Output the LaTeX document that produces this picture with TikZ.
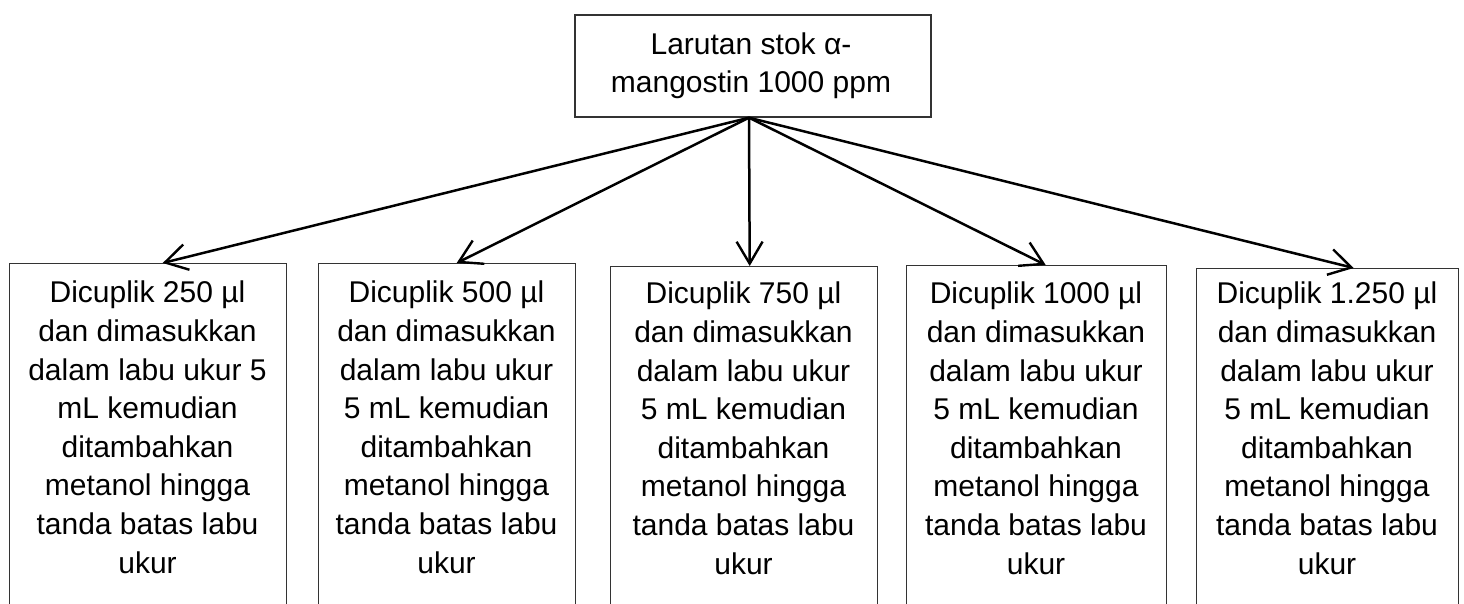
\documentclass[tikz,border=0pt]{standalone}
\usepackage{fontspec}
\setmainfont{Liberation Sans}
\usetikzlibrary{arrows.meta}
\begin{document}
\begin{tikzpicture}[x=1pt,y=-1pt,
  boxshape/.style={draw=black!80, line width=1.4pt, inner sep=0pt, anchor=north west, minimum height=380pt},
  label/.style={align=center, inner sep=0pt, anchor=base, font=\fontsize{30}{38.6}\selectfont},
  conn/.style={line width=2.5pt, -{Straight Barb[length=22pt,width=26pt,line width=2.4pt]}}]
\useasboundingbox (0,0) rectangle (1464,604);
\clip (0,0) rectangle (1464,604);
% top box
\node[draw=black!80, line width=1.4pt, inner sep=0pt, minimum width=356pt, minimum height=102pt] (top) at (753,66) {};
\node[label] (toptext) at (751,93) {Larutan stok α-\\mangostin 1000 ppm};
\coordinate (apex) at ([xshift=-4pt]top.south);
% bottom boxes
\node[boxshape, minimum width=277pt] (b1) at (9,263) {};
\node[boxshape, minimum width=257pt] (b2) at (318,263) {};
\node[boxshape, minimum width=267pt] (b3) at (610,266) {};
\node[boxshape, minimum width=260pt] (b4) at (906,265) {};
\node[boxshape, minimum width=262pt] (b5) at (1196,268) {};
\node[label] (l1) at (147.5,573) {Dicuplik 250 µl\\dan dimasukkan\\dalam labu ukur 5\\mL kemudian\\ditambahkan\\metanol hingga\\tanda batas labu\\ukur};
\node[label] (l2) at (446.5,573) {Dicuplik 500 µl\\dan dimasukkan\\dalam labu ukur\\5 mL kemudian\\ditambahkan\\metanol hingga\\tanda batas labu\\ukur};
\node[label] (l3) at (743.5,574) {Dicuplik 750 µl\\dan dimasukkan\\dalam labu ukur\\5 mL kemudian\\ditambahkan\\metanol hingga\\tanda batas labu\\ukur};
\node[label] (l4) at (1036,574) {Dicuplik 1000 µl\\dan dimasukkan\\dalam labu ukur\\5 mL kemudian\\ditambahkan\\metanol hingga\\tanda batas labu\\ukur};
\node[label] (l5) at (1327,574) {Dicuplik 1.250 µl\\dan dimasukkan\\dalam labu ukur\\5 mL kemudian\\ditambahkan\\metanol hingga\\tanda batas labu\\ukur};
% arrow tips
\coordinate (t1) at ([xshift=14.5pt]b1.north);
\coordinate (t2) at ([xshift=9.5pt]b2.north);
\coordinate (t3) at ([xshift=5.5pt]b3.north);
\coordinate (t4) at ([xshift=9pt]b4.north);
\coordinate (t5) at ([xshift=26pt]b5.north);
\foreach \t in {t1,t2,t3,t4,t5} \draw[conn] (apex) -- (\t);
\end{tikzpicture}
\end{document}
